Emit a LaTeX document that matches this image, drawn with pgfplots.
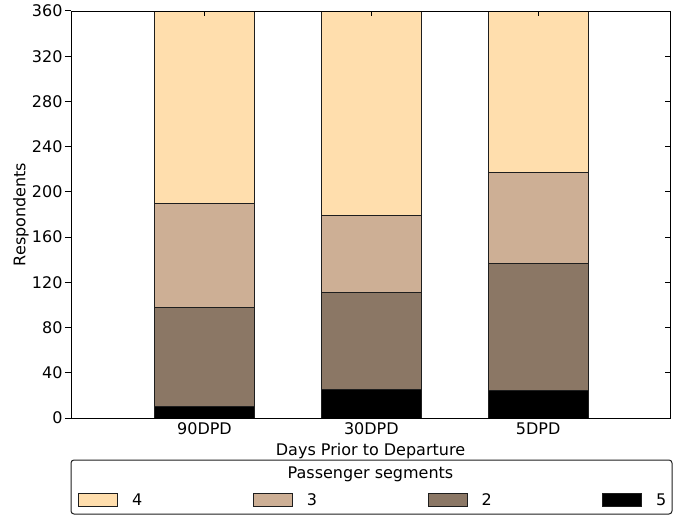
\documentclass[border=0pt]{standalone}
\usepackage{pgfplots}
\pgfplotsset{compat=1.18}
\usepackage{fontspec}
\setmainfont{DejaVu Sans}
\definecolor{c4}{RGB}{255,222,173}
\definecolor{c3}{RGB}{205,175,149}
\definecolor{c2}{RGB}{139,119,101}
\definecolor{edge}{RGB}{30,30,30}
\newcommand{\bigf}{\fontsize{16bp}{19bp}\selectfont}
\begin{document}
\begin{tikzpicture}
\pgfplotsset{
  every axis/.append style={font=\bigf},
  every tick label/.append style={font=\bigf},
  every axis label/.append style={font=\bigf},
  /pgf/number format/assume math mode=true,
  segbar/.style={draw=edge, line width=1bp, fill=#1,
    area legend,
    legend image code/.code={\draw[##1, line width=1bp] (0bp,-6.5bp) rectangle (39bp,6.5bp);}},
}
% background / bounding box
\path[use as bounding box] (-71bp,-97bp) rectangle (608bp,418bp);
\begin{axis}[name=main, at={(0,0)}, anchor=south west,
  scale only axis, width=599bp, height=407bp,
  xmin=-0.8, xmax=2.79, ymin=0, ymax=360,
  ybar stacked, bar width=0.6,
  axis on top, tick align=inside,
  xtick={0,1,2}, xticklabels={90DPD,30DPD,5DPD}, xtick pos=both,
  ytick={0,40,...,360}, ytick pos=right, yticklabels={},
  major tick length=5bp,
  axis line style={line width=1bp, draw=black},
  tick style={line width=1bp, black},
  xticklabel style={font=\bigf, yshift=-1bp},
  xlabel={Days Prior to Departure},
  xlabel style={font=\bigf, yshift=-2bp},
  reverse legend,
  legend columns=4,
  legend cell align=left,
  legend style={draw=none, fill=none, at={(0.0067,-0.2015)}, anchor=west,
    font=\bigf, nodes={font=\bigf},
    /tikz/every odd column/.append style={column sep=12bp},
    /tikz/every even column/.append style={column sep=108.5bp}},
]
\addplot+[segbar=black] coordinates {(0,10) (1,25) (2,24)};
\addlegendentry{5}
\addplot+[segbar=c2] coordinates {(0,88) (1,86) (2,113)};
\addlegendentry{2}
\addplot+[segbar=c3] coordinates {(0,92) (1,68) (2,80)};
\addlegendentry{3}
\addplot+[segbar=c4] coordinates {(0,250) (1,240) (2,210)};
\addlegendentry{4}
\end{axis}
\begin{axis}[at={(0,0)}, anchor=south west,
  scale only axis, width=599bp, height=407bp,
  xmin=-0.8, xmax=2.79, ymin=0, ymax=360,
  axis line style={draw=none},
  xtick=\empty,
  ytick={0,40,...,360}, ytick pos=left, tick align=outside,
  yticklabels={0,40,80,120,160,200,240,280,320,360},
  major tick length=6bp,
  tick style={line width=1bp, black},
  yticklabel style={font=\bigf, xshift=1bp},
  ylabel={Respondents},
  ylabel style={font=\bigf, at={(rel axis cs:-0.0835,0.5)}, anchor=center},
]
\end{axis}
\draw[line width=1bp, rounded corners=3bp, draw=edge] (0bp,-42bp) rectangle (601bp,-96bp);
\node[font=\bigf] at (299.5bp,-56bp) {Passenger segments};
\end{tikzpicture}
\end{document}
